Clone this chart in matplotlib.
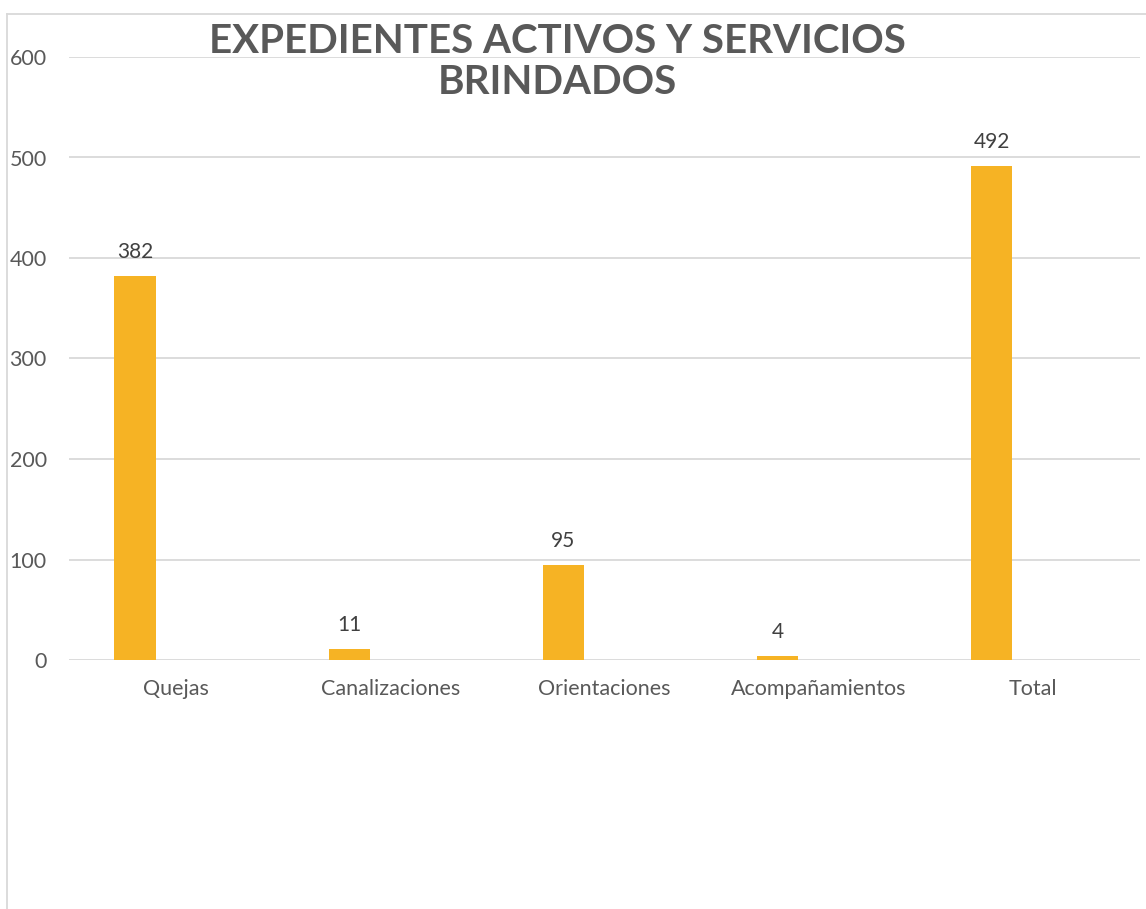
import numpy as np
import matplotlib
matplotlib.use('Agg')
import matplotlib.pyplot as plt
from matplotlib.lines import Line2D

# Data
categories = ['Quejas', 'Canalizaciones', 'Orientaciones', 'Acompañamientos', 'Total']
values = [382, 11, 95, 4, 492]
yticks = [0, 100, 200, 300, 400, 500, 600]
title = 'EXPEDIENTES ACTIVOS Y SERVICIOS\nBRINDADOS'

plt.rcParams['font.family'] = ['Lato', 'DejaVu Sans']

fig = plt.figure(figsize=(11.46, 9.09), dpi=100)
ax = fig.add_axes([69/1146, 249/909, (1140-69)/1146, (660-57)/909])

x = np.arange(len(categories))
bw = 0.192
bars = ax.bar(x - bw, values, width=bw, color='#F6B324', zorder=2)

for b, v in zip(bars, values):
    ax.annotate(str(v), (b.get_x() + b.get_width()/2, v), xytext=(0, 10),
                textcoords='offset points', ha='center', va='bottom',
                fontsize=15, color='#404040')

ax.set_xlim(-0.5, len(categories) - 0.5)
ax.set_ylim(0, 600)
ax.set_yticks(yticks)
ax.set_xticks(x)
ax.set_xticklabels(categories)
ax.tick_params(axis='both', length=0, labelsize=15.5, colors='#595959')
ax.tick_params(axis='y', pad=16)
ax.tick_params(axis='x', pad=14)
ax.grid(axis='y', color='#d9d9d9', linewidth=1.3, zorder=0)
for s in ax.spines.values():
    s.set_visible(False)

fig.text(557/1146, 1 - 62/909, title, ha='center', va='center',
         fontsize=29, fontweight='bold', color='#595959', linespacing=1.15)

# outer chart border (left and top)
fig.add_artist(Line2D([7/1146, 7/1146], [0, 1 - 14/909], transform=fig.transFigure,
                      color='#d9d9d9', linewidth=1.3))
fig.add_artist(Line2D([7/1146, 1], [1 - 14/909, 1 - 14/909], transform=fig.transFigure,
                      color='#d9d9d9', linewidth=1.3))

fig.savefig('out.png', dpi=100)
